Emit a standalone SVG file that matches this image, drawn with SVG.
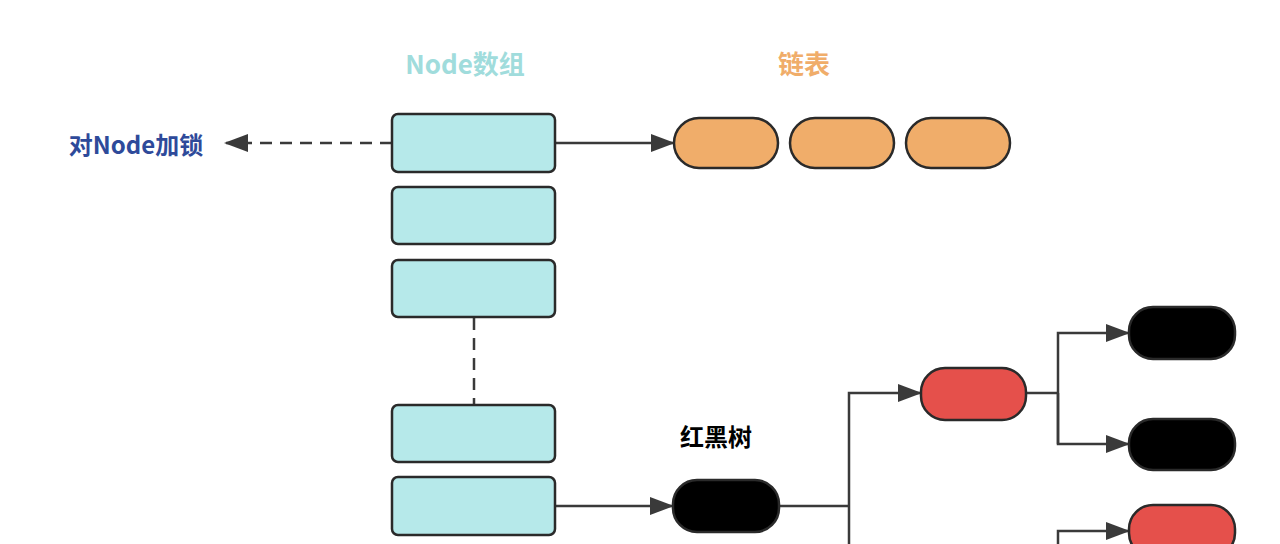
<svg xmlns="http://www.w3.org/2000/svg" width="1280" height="544" viewBox="0 0 1280 544">
<style>
.arr{fill:#b6e9ea;stroke:#2a2a2a;stroke-width:2.5}
.pill{stroke:#2a2a2a;stroke-width:2.5}
.c{fill:none;stroke:#3a3a3a;stroke-width:2.5}
text{font-family:"Noto Sans CJK SC","Liberation Sans",sans-serif;font-weight:bold}
</style>
<defs><marker id="ah" markerWidth="10" markerHeight="10" refX="9" refY="5" orient="auto" markerUnits="userSpaceOnUse" viewBox="0 0 10 10"><path d="M0,0 L10,5 L0,10 z" fill="#3a3a3a"/></marker>
<marker id="ah2" markerWidth="24" markerHeight="18" refX="22" refY="9" orient="auto" markerUnits="userSpaceOnUse" viewBox="0 0 24 18"><path d="M0,0 L24,9 L0,18 z" fill="#3a3a3a"/></marker></defs>
<rect width="1280" height="544" fill="#fff"/>
<text x="465" y="74" font-size="26" fill="#a0dcdc" text-anchor="middle">Node数组</text>
<text x="804" y="74" font-size="26" fill="#f0ad6a" text-anchor="middle">链表</text>
<text x="136" y="154" font-size="24" fill="#2e4a9a" text-anchor="middle">对Node加锁</text>
<text x="716" y="446" font-size="24" fill="#000" text-anchor="middle">红黑树</text>
<g id="connectors">
<line class="c" x1="392" y1="143" x2="226" y2="143" stroke-dasharray="12,8" marker-end="url(#ah2)"/>
<line class="c" x1="556" y1="143" x2="673" y2="143" marker-end="url(#ah2)"/>
<line class="c" x1="474" y1="318" x2="474" y2="404" stroke-dasharray="12,8"/>
<line class="c" x1="556" y1="506" x2="672" y2="506" marker-end="url(#ah2)"/>
<polyline class="c" points="779,506 849,506"/>
<polyline class="c" points="849,560 849,393 920,393" marker-end="url(#ah2)"/>
<polyline class="c" points="1026,393 1058,393"/>
<polyline class="c" points="1058,444 1058,333 1128,333" marker-end="url(#ah2)"/>
<polyline class="c" points="1058,393 1058,444 1128,444" marker-end="url(#ah2)"/>
<polyline class="c" points="1058,560 1058,531 1128,531" marker-end="url(#ah2)"/>
</g>
<g id="a1"><rect class="arr" x="392" y="114" width="163" height="58" rx="6"/></g>
<g id="a2"><rect class="arr" x="392" y="187" width="163" height="57" rx="6"/></g>
<g id="a3"><rect class="arr" x="392" y="260" width="163" height="57" rx="6"/></g>
<g id="a4"><rect class="arr" x="392" y="405" width="163" height="57" rx="6"/></g>
<g id="a5"><rect class="arr" x="392" y="477" width="163" height="58" rx="6"/></g>
<g id="l1"><rect class="pill" fill="#f0ad6a" x="674" y="118" width="104" height="50" rx="25"/></g>
<g id="l2"><rect class="pill" fill="#f0ad6a" x="790" y="118" width="104" height="50" rx="25"/></g>
<g id="l3"><rect class="pill" fill="#f0ad6a" x="906" y="118" width="104" height="50" rx="25"/></g>
<g id="root"><rect class="pill" fill="#000" x="673" y="480" width="106" height="52" rx="24"/></g>
<g id="r1"><rect class="pill" fill="#e5504b" x="921" y="368" width="105" height="52" rx="24"/></g>
<g id="b1"><rect class="pill" fill="#000" x="1129" y="307" width="106" height="52" rx="24"/></g>
<g id="b2"><rect class="pill" fill="#000" x="1129" y="419" width="106" height="51" rx="24"/></g>
<g id="r2"><rect class="pill" fill="#e5504b" x="1129" y="505" width="106" height="52" rx="24"/></g>
</svg>
